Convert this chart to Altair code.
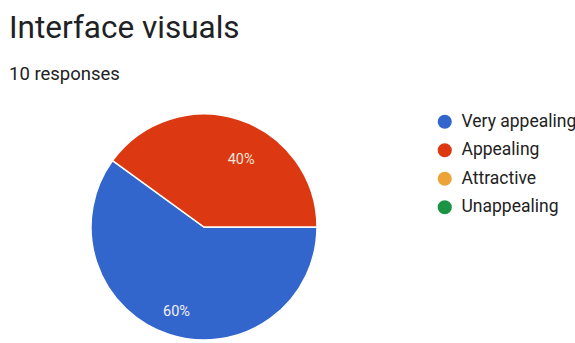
import altair as alt
import pandas as pd

title_text = "Interface visuals"
subtitle_text = "10 responses"
categories = ["Very appealing", "Appealing", "Attractive", "Unappealing"]
counts = [6, 4, 0, 0]
colors = ["#3366cc", "#dc3912", "#eca43a", "#1a9444"]

total = sum(counts)
df = pd.DataFrame({
    "answer": categories,
    "count": counts,
    "idx": list(range(len(categories))),
    "pct": [f"{round(c * 100 / total)}%" for c in counts],
})

FONT = "Roboto"
cx, cy, R = 204, 227, 113

color_enc = alt.Color(
    "answer:N",
    scale=alt.Scale(domain=categories, range=colors),
    sort=categories,
    legend=alt.Legend(
        title=None, orient="none", legendX=436, legendY=113,
        symbolType="circle", symbolSize=200, symbolStrokeWidth=0,
        labelFont=FONT, labelFontSize=17.5, labelColor="#222222",
        labelOffset=8, rowPadding=9.5, labelLimit=200,
    ),
)

base = alt.Chart(df).transform_filter("datum.count > 0")

theta = alt.Theta("count:Q", stack=True,
                  scale=alt.Scale(range=[1.5707963, 7.8539816]))

arcs = base.mark_arc(outerRadius=R, stroke="white", strokeWidth=1.5).encode(
    theta=theta,
    color=color_enc,
    order=alt.Order("idx:Q"),
    x=alt.value(cx), y=alt.value(cy),
)

lab_blue = base.mark_text(radius=89, font=FONT, fontSize=14.5, color="#f4f0f0").encode(
    theta=theta, order=alt.Order("idx:Q"), text="pct:N",
    x=alt.value(cx), y=alt.value(cy),
    opacity=alt.condition("datum.answer == 'Very appealing'", alt.value(1), alt.value(0)),
)
lab_red = base.mark_text(radius=75, dx=14, dy=4, font=FONT, fontSize=14.5, color="#f4e4dc").encode(
    theta=theta, order=alt.Order("idx:Q"), text="pct:N",
    x=alt.value(cx), y=alt.value(cy),
    opacity=alt.condition("datum.answer == 'Appealing'", alt.value(1), alt.value(0)),
)

title = alt.Chart(pd.DataFrame({"t": [title_text]})).mark_text(
    align="left", baseline="alphabetic", font=FONT, fontSize=31.5, color="#202124"
).encode(text="t:N", x=alt.value(9), y=alt.value(38))

subtitle = alt.Chart(pd.DataFrame({"t": [subtitle_text]})).mark_text(
    align="left", baseline="alphabetic", font=FONT, fontSize=18.5, color="#202124"
).encode(text="t:N", x=alt.value(9), y=alt.value(80))

chart = alt.layer(arcs, lab_blue, lab_red, title, subtitle).properties(
    width=575, height=343,
    autosize=alt.AutoSizeParams(type="none"),
    padding=0,
    background="white",
).configure_view(stroke=None)

chart.save("out.html", embed_options={"renderer": "svg", "actions": False})
